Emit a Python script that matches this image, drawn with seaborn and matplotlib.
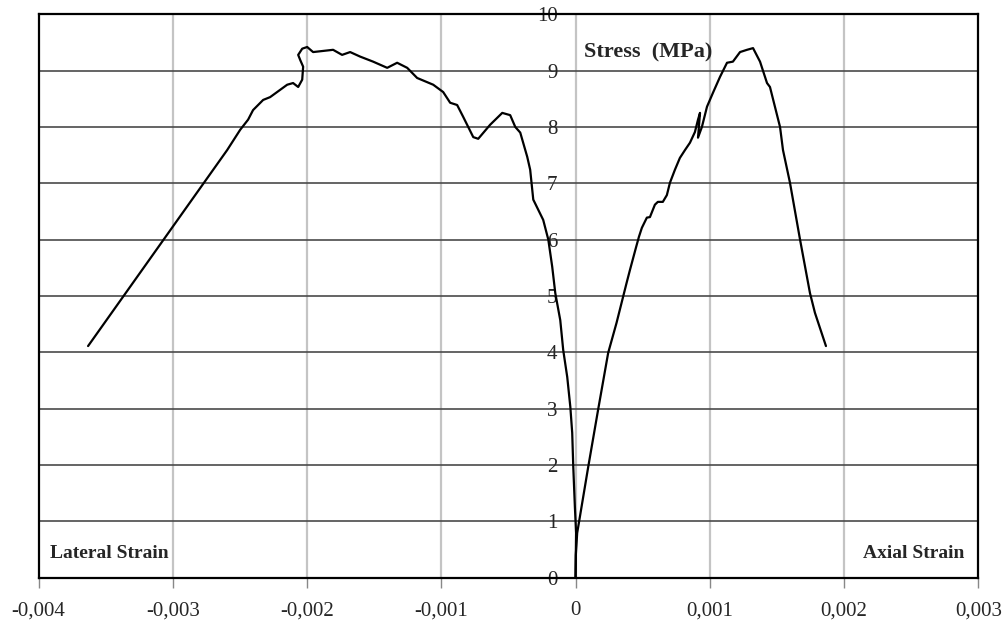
import numpy as np
import pandas as pd
import seaborn as sns
import matplotlib
matplotlib.use("Agg")
import matplotlib.pyplot as plt

# ---- data (strain in units of 1e-3, stress in MPa) ----
lateral_strain_e3 = [-3.631, -2.595, -2.498, -2.439, -2.402, -2.327, -2.275, -2.148, -2.104,
                     -2.066, -2.036, -2.029, -2.051, -2.066, -2.036, -1.999, -1.955, -1.806,
                     -1.739, -1.679, -1.605, -1.508, -1.403, -1.329, -1.254, -1.180, -1.060,
                     -0.986, -0.934, -0.882, -0.837, -0.762, -0.725, -0.636, -0.546, -0.487,
                     -0.449, -0.412, -0.360, -0.338, -0.315, -0.241, -0.203, -0.174, -0.151,
                     -0.114, -0.092, -0.062, -0.039, -0.025, -0.017, -0.005, 0.004, 0.002, 0.0]
lateral_stress = [4.11, 7.59, 7.95, 8.13, 8.30, 8.48, 8.53, 8.75, 8.78,
                  8.71, 8.84, 9.07, 9.19, 9.28, 9.39, 9.42, 9.33, 9.37,
                  9.28, 9.33, 9.25, 9.16, 9.05, 9.14, 9.05, 8.87, 8.75,
                  8.62, 8.43, 8.39, 8.18, 7.82, 7.79, 8.04, 8.25, 8.21,
                  8.00, 7.90, 7.47, 7.24, 6.71, 6.35, 6.00, 5.52, 5.05,
                  4.57, 4.04, 3.56, 3.03, 2.57, 1.96, 1.25, 0.79, 0.40, 0.0]

axial_strain_e3 = [0.0, 0.002, 0.012, 0.094, 0.168, 0.243, 0.305, 0.380, 0.405, 0.449,
                   0.472, 0.494, 0.531, 0.554, 0.591, 0.613, 0.650, 0.680, 0.703, 0.740,
                   0.777, 0.815, 0.852, 0.889, 0.912, 0.927, 0.912, 0.941, 0.979, 1.024,
                   1.076, 1.128, 1.172, 1.225, 1.277, 1.322, 1.374, 1.426, 1.448, 1.523,
                   1.545, 1.597, 1.672, 1.746, 1.783, 1.865]
axial_stress = [0.0, 0.40, 0.79, 1.96, 2.98, 3.99, 4.52, 5.23, 5.46, 5.85,
                6.05, 6.21, 6.39, 6.40, 6.62, 6.67, 6.67, 6.79, 7.01, 7.24,
                7.45, 7.59, 7.72, 7.91, 8.13, 8.25, 7.81, 8.00, 8.36, 8.61,
                8.89, 9.14, 9.16, 9.33, 9.37, 9.40, 9.16, 8.78, 8.71, 8.00,
                7.59, 7.01, 6.00, 5.05, 4.70, 4.11]

x_ticks = [-0.004, -0.003, -0.002, -0.001, 0.0, 0.001, 0.002, 0.003]
x_tick_labels = ["-0,004", "-0,003", "-0,002", "-0,001", "0", "0,001", "0,002", "0,003"]
y_ticks = list(range(0, 11))
y_tick_labels = [str(v) for v in y_ticks]

lateral = pd.DataFrame({"strain": np.array(lateral_strain_e3) * 1e-3, "stress": lateral_stress})
axial = pd.DataFrame({"strain": np.array(axial_strain_e3) * 1e-3, "stress": axial_stress})

sns.set_theme(style="white")
plt.rcParams["font.family"] = ["Liberation Serif", "DejaVu Serif"]

fig = plt.figure(figsize=(10.06, 6.23), dpi=100)
ax = fig.add_axes([0.0383, 0.0730, 0.9342, 0.9040])

xmin, xmax = -0.004, 0.003
ax.set_xlim(xmin, xmax)
ax.set_ylim(0, 10)

# grid
for v in x_ticks[1:-1]:
    ax.axvline(v, color="#c4c4c4", lw=1.6, zorder=0)
for v in y_ticks[1:-1]:
    ax.axhline(v, color="#4a4a4a", lw=1.2, zorder=0)

sns.lineplot(data=lateral, x="strain", y="stress", sort=False, estimator=None,
             color="black", lw=1.6, ax=ax)
sns.lineplot(data=axial, x="strain", y="stress", sort=False, estimator=None,
             color="black", lw=1.6, ax=ax)

# x axis
ax.set_xticks(x_ticks)
ax.set_xticklabels(x_tick_labels, fontsize=15)
ax.tick_params(axis="x", bottom=True, length=7, width=1, color="#888888", pad=10)
ax.set_xlabel("")
ax.set_ylabel("")

# y axis labels at x = 0
ax.set_yticks([])
sec = ax.secondary_yaxis((0 - xmin) / (xmax - xmin))
sec.set_alignment("left")
sec.set_yticks(y_ticks)
sec.set_yticklabels(y_tick_labels, fontsize=15)
sec.tick_params(axis="y", length=0, pad=13)
for s in sec.spines.values():
    s.set_visible(False)

for s in ax.spines.values():
    s.set_color("black")
    s.set_linewidth(1.6)

ax.text(0.000063, 9.33, "Stress  (MPa)", fontsize=16, fontweight="bold",
        ha="left", va="center")
ax.text(-0.003914, 0.43, "Lateral Strain", fontsize=14, fontweight="bold",
        ha="left", va="center")
ax.text(0.002894, 0.43, "Axial Strain", fontsize=14, fontweight="bold",
        ha="right", va="center")

fig.savefig("out.png", dpi=100)
